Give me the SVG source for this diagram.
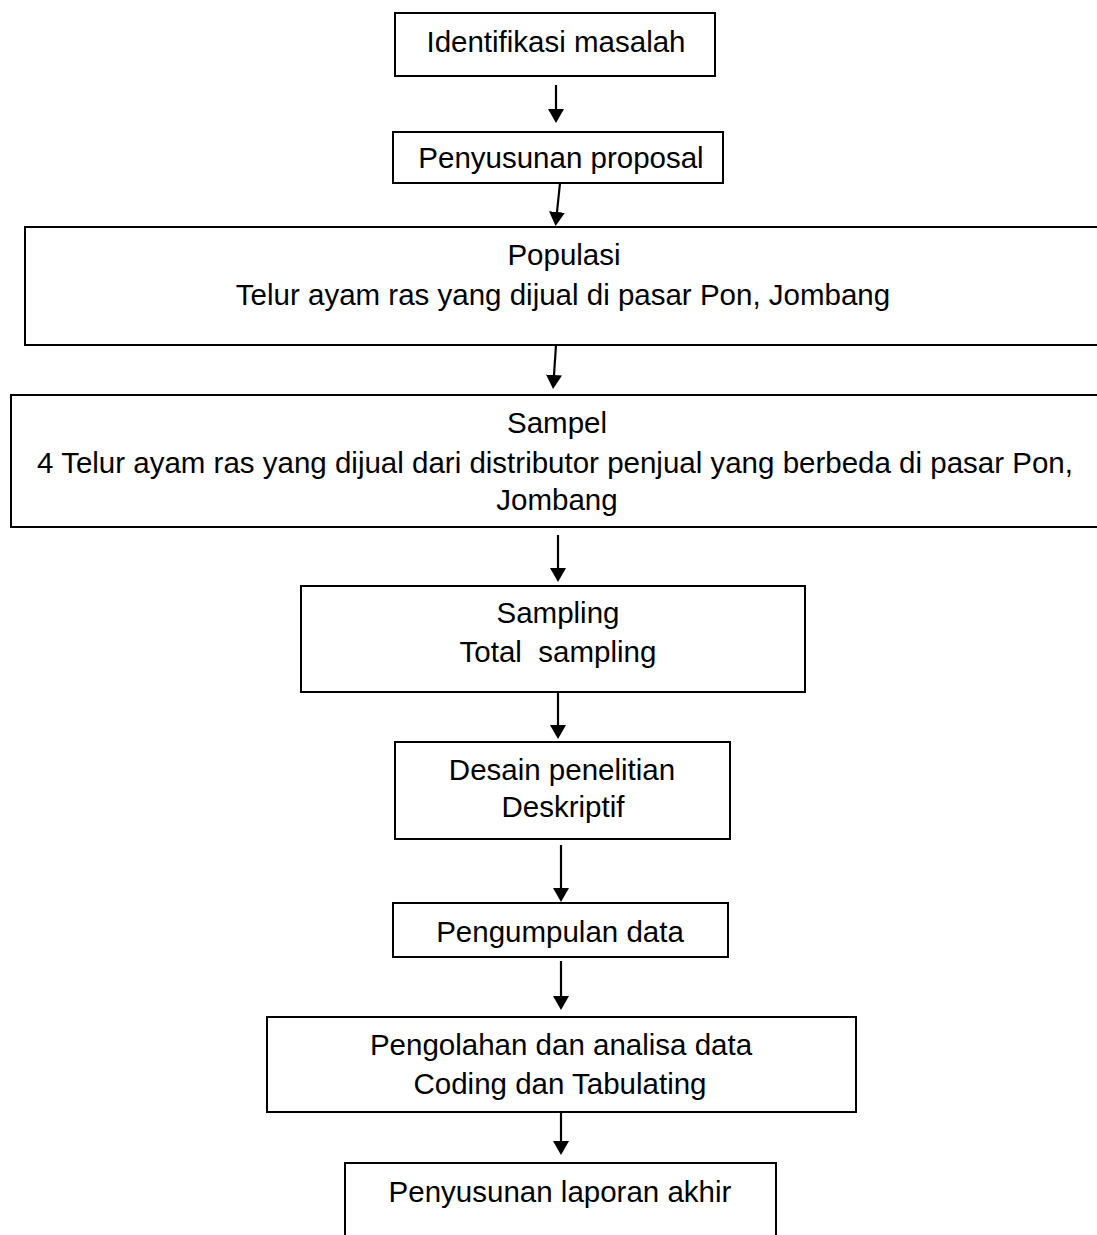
<svg xmlns="http://www.w3.org/2000/svg" width="1097" height="1235" viewBox="0 0 1097 1235">
<defs>
<style>
.box{fill:#fff;stroke:#000;stroke-width:2}
.t{font-family:"Liberation Sans",Arial,sans-serif;font-size:29.5px;fill:#000;text-anchor:middle}
.c{stroke:#000;stroke-width:2.2;fill:none}
</style>
<marker id="ah" markerUnits="userSpaceOnUse" markerWidth="14" markerHeight="16" viewBox="0 0 14 16" refX="0" refY="8" orient="auto">
<path d="M0,0 L14,8 L0,16 Z" fill="#000"/>
</marker>
</defs>
<rect width="1097" height="1235" fill="#fff"/>
<g id="connectors">
<line class="c" x1="556" y1="85" x2="556" y2="109" marker-end="url(#ah)"/>
<line class="c" x1="560" y1="183" x2="557" y2="212" marker-end="url(#ah)"/>
<line class="c" x1="556" y1="345" x2="554" y2="375" marker-end="url(#ah)"/>
<line class="c" x1="558" y1="535" x2="558" y2="568" marker-end="url(#ah)"/>
<line class="c" x1="558" y1="692" x2="558" y2="725" marker-end="url(#ah)"/>
<line class="c" x1="561" y1="845" x2="561" y2="888" marker-end="url(#ah)"/>
<line class="c" x1="561" y1="961" x2="561" y2="996" marker-end="url(#ah)"/>
<line class="c" x1="561" y1="1113" x2="561" y2="1141" marker-end="url(#ah)"/>
</g>
<g id="n1">
<rect class="box" x="395" y="13" width="320" height="63"/>
<text class="t" x="556" y="52">Identifikasi masalah</text>
</g>
<g id="n2">
<rect class="box" x="393" y="132" width="330" height="51"/>
<text class="t" x="561" y="168">Penyusunan proposal</text>
</g>
<g id="n3">
<rect class="box" x="25" y="227" width="1080" height="118"/>
<text class="t" x="564" y="265">Populasi</text>
<text class="t" x="563" y="305">Telur ayam ras yang dijual di pasar Pon, Jombang</text>
</g>
<g id="n4">
<rect class="box" x="11" y="395" width="1095" height="132"/>
<text class="t" x="557" y="433">Sampel</text>
<text class="t" x="555" y="473">4 Telur ayam ras yang dijual dari distributor penjual yang berbeda di pasar Pon,</text>
<text class="t" x="557" y="510">Jombang</text>
</g>
<g id="n5">
<rect class="box" x="301" y="586" width="504" height="106"/>
<text class="t" x="558" y="623">Sampling</text>
<text class="t" x="558" y="662" xml:space="preserve">Total  sampling</text>
</g>
<g id="n6">
<rect class="box" x="395" y="742" width="335" height="97"/>
<text class="t" x="562" y="780">Desain penelitian</text>
<text class="t" x="563" y="817">Deskriptif</text>
</g>
<g id="n7">
<rect class="box" x="393" y="903" width="335" height="54"/>
<text class="t" x="560" y="942">Pengumpulan data</text>
</g>
<g id="n8">
<rect class="box" x="267" y="1017" width="589" height="95"/>
<text class="t" x="561" y="1055">Pengolahan dan analisa data</text>
<text class="t" x="560" y="1094">Coding dan Tabulating</text>
</g>
<g id="n9">
<path class="box" style="fill:none" d="M345,1240 V1163 H776 V1240"/>
<text class="t" x="560" y="1202">Penyusunan laporan akhir</text>
</g>
</svg>
